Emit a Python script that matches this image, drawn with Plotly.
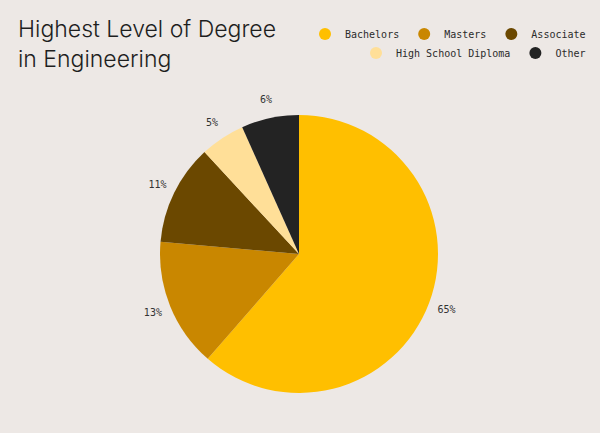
import plotly.graph_objects as go

# slice sizes as drawn in the chart, and the percent labels printed next to them
degrees = ["Bachelors", "Masters", "Associate", "High School Diploma", "Other"]
slice_sizes = [61.4, 15.0, 11.7, 5.2, 6.7]
pct_labels = ["65%", "13%", "11%", "5%", "6%"]
colors = ["#FFBF00", "#C98700", "#6B4800", "#FFDF98", "#232323"]

bg = "#EDE8E5"
mono = "DejaVu Sans Mono"

fig = go.Figure()

# the pie itself, no text
fig.add_trace(go.Pie(
    labels=degrees,
    values=slice_sizes,
    marker=dict(colors=colors, line=dict(width=0)),
    sort=False,
    direction="clockwise",
    rotation=0,
    textinfo="none",
    showlegend=False,
    hovertext=pct_labels,
    hoverinfo="label+text",
    domain=dict(x=[160 / 600, 438 / 600], y=[1 - 393 / 433, 1 - 115 / 433]),
))

# invisible outer ring that carries the percent labels a bit away from the pie
fig.add_trace(go.Pie(
    labels=degrees,
    values=slice_sizes,
    text=pct_labels,
    marker=dict(colors=["rgba(0,0,0,0)"] * len(degrees), line=dict(width=0)),
    sort=False,
    direction="clockwise",
    rotation=0,
    hole=0.78,
    texttemplate="%{text}",
    textposition="inside",
    insidetextorientation="horizontal",
    textfont=dict(family=mono, size=10, color="#333333"),
    showlegend=False,
    hoverinfo="skip",
    domain=dict(x=[122 / 600, 476 / 600], y=[1 - 431 / 433, 1 - 77 / 433]),
))

# legend entries with round markers, split on two rows
for i, (name, col) in enumerate(zip(degrees, colors)):
    fig.add_trace(go.Scatter(
        x=[None], y=[None], mode="markers", name=name,
        marker=dict(color=col, size=12, symbol="circle"),
        legend="legend" if i < 3 else "legend2",
    ))

legend_style = dict(
    orientation="h", xanchor="right", x=0.985, yanchor="middle",
    font=dict(family=mono, size=10, color="#2b2b2b"),
    bgcolor="rgba(0,0,0,0)", itemsizing="constant", itemwidth=30,
)

fig.update_layout(
    width=600, height=433,
    paper_bgcolor=bg, plot_bgcolor=bg,
    margin=dict(l=0, r=0, t=0, b=0),
    title=dict(
        text="Highest Level of Degree<br>in Engineering",
        x=0.03, xanchor="left", y=0.9145, yanchor="middle",
        font=dict(family="Inter", size=23, color="#1e1e1e", weight=300),
    ),
    legend=dict(y=1 - 34 / 433, **legend_style),
    legend2=dict(y=1 - 53 / 433, **legend_style),
    xaxis=dict(visible=False),
    yaxis=dict(visible=False),
)

fig.write_html(
    "out.html",
    config={"displayModeBar": False},
    post_script="document.body.style.margin='0';",
)
